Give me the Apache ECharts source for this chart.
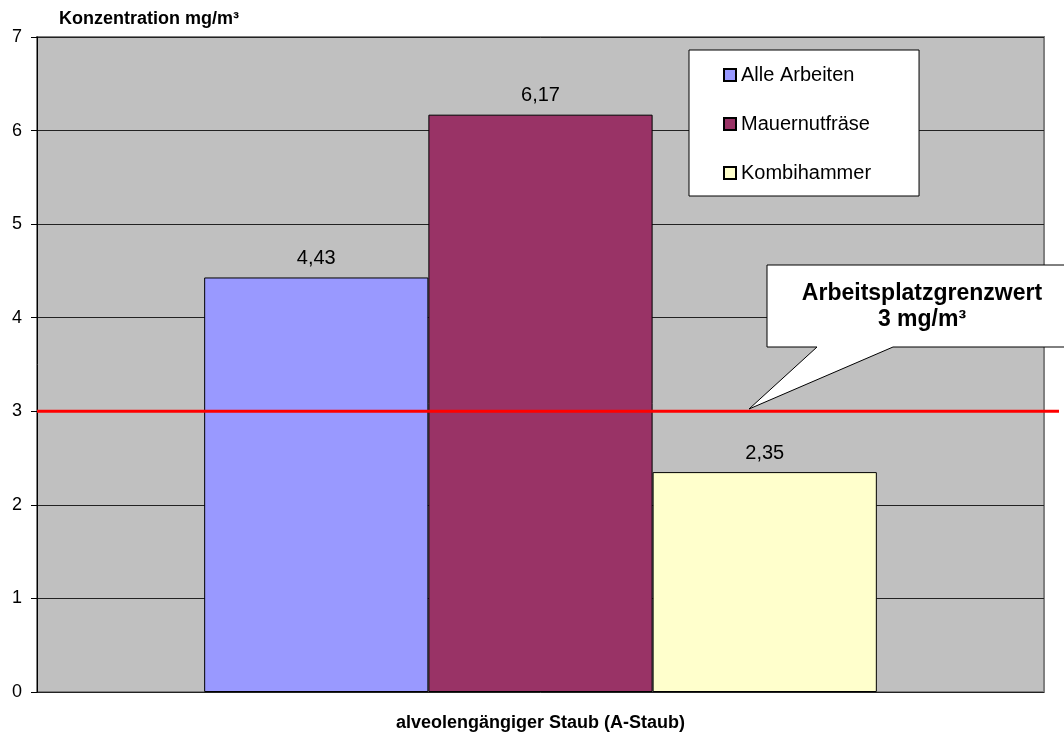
<!DOCTYPE html>
<html lang="de">

<head>
  <meta charset="UTF-8">
  <title>A-Staub Konzentration</title>
  <script src="https://cdn.jsdelivr.net/npm/echarts@6/dist/echarts.min.js"></script>
  <style>
    body { margin: 0; background: #fff; }
    #chart { width: 1064px; height: 735px; }
  </style>
</head>

<body>
  <div id="chart"></div>
  <script>
    const myEcharts = echarts.init(document.getElementById('chart'))

    // Daten
    const categories = ['alveolengängiger Staub (A-Staub)']
    const seriesNames = ['Alle Arbeiten', 'Mauernutfräse', 'Kombihammer']
    const seriesValues = [[4.43], [6.17], [2.35]]
    const seriesColors = ['#9999FF', '#993366', '#FFFFCC']
    const grenzwert = 3
    const yTicks = [0, 1, 2, 3, 4, 5, 6, 7]

    const font = '"Liberation Sans", Arial, sans-serif'

    const bars = seriesNames.map((name, i) => ({
      type: 'bar',
      name: name,
      data: seriesValues[i],
      xAxisIndex: 0,
      yAxisIndex: 0,
      barGap: '0%',
      barCategoryGap: '33.2%',
      itemStyle: { color: seriesColors[i], borderColor: '#000', borderWidth: 1 },
      label: {
        show: true,
        position: 'top',
        distance: 9,
        color: '#000',
        fontFamily: font,
        fontSize: 20,
        formatter: p => String(p.value).replace('.', ',')
      },
      z: 3
    }))

    const option = {
      animation: false,
      title: {
        text: 'Konzentration mg/m³',
        left: 54,
        top: 5,
        textStyle: { fontFamily: font, fontSize: 18, fontWeight: 'bold', color: '#000' }
      },
      legend: {
        orient: 'vertical',
        left: 689,
        top: 50,
        data: seriesNames,
        backgroundColor: '#fff',
        borderColor: '#000',
        borderWidth: 1,
        padding: [15, 48, 13, 34],
        itemGap: 29,
        itemWidth: 12,
        itemHeight: 12,
        icon: 'rect',
        textStyle: { fontFamily: font, fontSize: 20, color: '#000' }
      },
      grid: [
        {
          left: 37, right: 20, top: 37, bottom: 43,
          outerBoundsMode: 'none',
          show: true,
          backgroundColor: '#C0C0C0',
          borderColor: '#808080',
          borderWidth: 2
        },
        { left: 37, right: 5, top: 37, bottom: 43, outerBoundsMode: 'none' }
      ],
      xAxis: [
        {
          type: 'category',
          gridIndex: 0,
          data: categories,
          name: categories[0],
          nameLocation: 'middle',
          nameGap: 22,
          nameTextStyle: { fontFamily: font, fontSize: 18, fontWeight: 'bold', color: '#000' },
          axisLabel: { show: false },
          axisTick: { show: false },
          axisLine: { show: false }
        },
        { type: 'value', gridIndex: 1, min: 0, max: 1, show: false }
      ],
      yAxis: [
        {
          type: 'value',
          gridIndex: 0,
          min: yTicks[0],
          max: yTicks[yTicks.length - 1],
          interval: 1,
          axisLine: { show: true, lineStyle: { color: '#000', width: 1 } },
          axisTick: { show: true, length: 6, lineStyle: { color: '#000' } },
          axisLabel: { margin: 15, fontFamily: font, fontSize: 18, color: '#000' },
          splitLine: { show: true, lineStyle: { color: '#222', width: 1 } }
        },
        { type: 'value', gridIndex: 1, min: yTicks[0], max: yTicks[yTicks.length - 1], show: false }
      ],
      series: [
        ...bars,
        {
          type: 'line',
          name: 'Grenzwert',
          xAxisIndex: 1,
          yAxisIndex: 1,
          data: [[0, grenzwert], [1, grenzwert]],
          symbol: 'none',
          lineStyle: { color: '#FF0000', width: 3 },
          z: 5,
          silent: true
        }
      ],
      graphic: [
        {
          type: 'polygon',
          z: 10,
          shape: {
            points: [[767, 265], [1080, 265], [1080, 347], [893, 347], [749, 409], [817, 347], [767, 347]]
          },
          style: { fill: '#fff', stroke: '#000', lineWidth: 1 }
        },
        {
          type: 'text',
          z: 11,
          x: 922,
          y: 281,
          style: {
            text: 'Arbeitsplatzgrenzwert\n3 mg/m³',
            align: 'center',
            verticalAlign: 'top',
            fontFamily: font,
            fontSize: 23,
            fontWeight: 'bold',
            lineHeight: 26,
            fill: '#000'
          }
        }
      ]
    }

    myEcharts.setOption(option)
  </script>
</body>

</html>
